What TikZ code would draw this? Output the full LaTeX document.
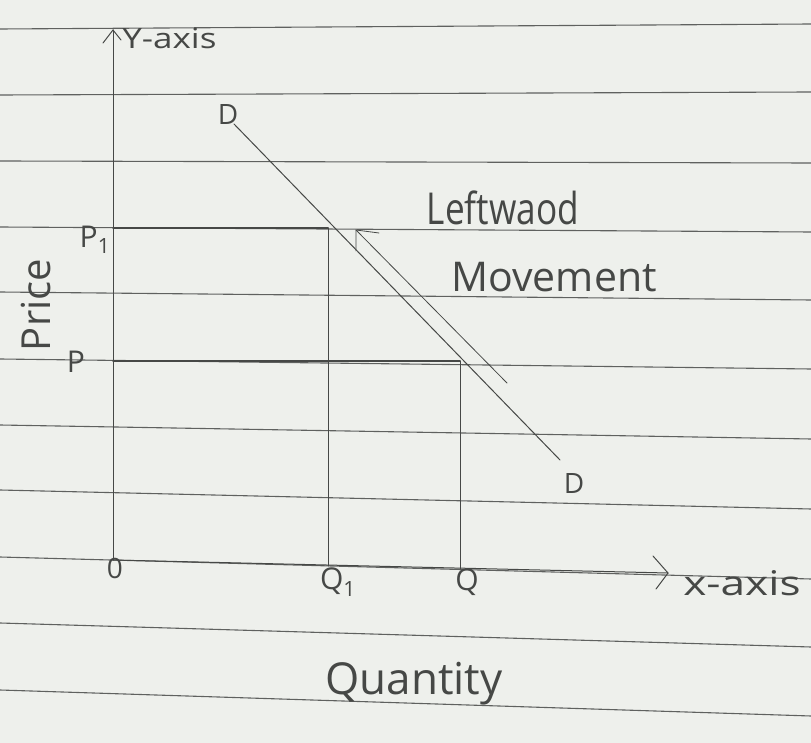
\documentclass[tikz,border=0pt]{standalone}
\usepackage{fontspec}
\setmainfont{Open Sans}
\usetikzlibrary{calc}
\definecolor{paper}{RGB}{238,240,236}
\definecolor{rule}{RGB}{95,97,95}
\definecolor{pencil}{RGB}{70,72,70}
\tikzset{
  ruled/.style={draw=rule, line width=1.1pt},
  pen/.style={draw=pencil, line width=1pt, line cap=round},
  hand/.style={text=pencil, inner sep=0pt},
}
\begin{document}
\begin{tikzpicture}[x=1pt,y=-1pt]
\fill[paper] (0,0) rectangle (811,743);
\useasboundingbox (0,0) rectangle (811,743);
% ruled lines of the paper
\foreach \l/\r in {29/24, 95/92, 161/163, 227/232, 292/300, 359/369, 425/439, 490/509, 557/579, 623/647, 690/716}
  \draw[ruled] (0,\l) -- (811,\r);
% coordinates
\coordinate (O) at (113,560);
\coordinate (ytop) at (113,30);
\coordinate (xend) at (668,573);
\coordinate (p1) at (113,228);
\coordinate (E1) at (328,228);
\coordinate (q1) at (328,566);
\coordinate (p) at (113,361);
\coordinate (E2) at (460,361);
\coordinate (q) at (460,569);
\coordinate (Dtop) at (234,124);
\coordinate (Dbot) at (560,460);
\coordinate (mstart) at (507,383);
\coordinate (mtip) at (356,230);
% axes
\draw[pen] (O) -- (ytop);
\draw[pen] ($(ytop)+(-10,13)$) -- (ytop) -- ($(ytop)+(8,10)$);
\draw[pen] (O) -- (xend);
\draw[pen] ($(xend)+(-15,-17)$) -- (xend) -- ($(xend)+(-12,16)$);
% guide lines
\draw[pen, line width=1.5pt] (p1) -- (E1);
\draw[pen] (E1) -- (q1);
\draw[pen, line width=1.5pt] (p) -- (E2);
\draw[pen] (E2) -- (q);
% demand curve
\draw[pen] (Dtop) -- (Dbot);
% movement arrow
\draw[pen, line width=0.8pt] (mstart) -- (mtip);
\draw[pen, line width=0.8pt] ($(mtip)+(0,21)$) -- (mtip) -- ($(mtip)+(23,3)$);
% labels
\node[hand, font=\fontsize{28}{28}\selectfont, xscale=1.25, anchor=west] (ylab) at (122,38) {Y-axis};
\node[hand, font=\fontsize{34}{34}\selectfont, xscale=1.3, anchor=west] (xlab) at (683,583) {x-axis};
\node[hand, font=\fontsize{28}{28}\selectfont] (dt) at (228,115) {D};
\node[hand, font=\fontsize{28}{28}\selectfont] (db) at (574,484) {D};
\node[hand, font=\fontsize{44}{44}\selectfont, xscale=0.8] (lw) at (503,208) {Leftwaod};
\node[hand, font=\fontsize{41}{41}\selectfont] (mv) at (554,277) {Movement};
\node[hand, font=\fontsize{30}{30}\selectfont] (P1lab) at (95,240) {P\textsubscript{1}};
\node[hand, font=\fontsize{30}{30}\selectfont] (Plab) at (76,362) {P};
\node[hand, font=\fontsize{40}{40}\selectfont, rotate=90] (price) at (36,305) {Price};
\node[hand, font=\fontsize{28}{28}\selectfont] (zero) at (115,568) {0};
\node[hand, font=\fontsize{30}{30}\selectfont] (Q1lab) at (338,582) {Q\textsubscript{1}};
\node[hand, font=\fontsize{30}{30}\selectfont] (Qlab) at (467,582) {Q};
\node[hand, font=\fontsize{44}{44}\selectfont] (qty) at (414,684) {Quantity};
\end{tikzpicture}
\end{document}
